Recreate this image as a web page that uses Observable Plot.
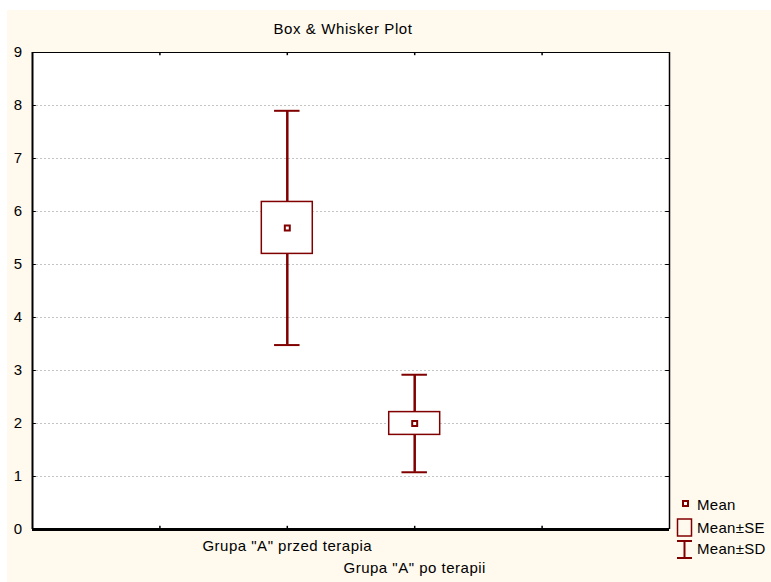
<!DOCTYPE html>
<html><head><meta charset="utf-8">
<script src="https://cdn.jsdelivr.net/npm/d3@7"></script>
<script src="https://cdn.jsdelivr.net/npm/@observablehq/plot@0.6"></script>
<style>
body{margin:0;background:#fff;font-family:"Liberation Sans",Arial,sans-serif;}
#wrap{position:relative;width:771px;height:582px;overflow:hidden;}
#bg{position:absolute;left:7px;top:10px;width:764px;height:572px;background:#fff9ee;}
#chart{position:absolute;left:0;top:0;}
#title{position:absolute;top:20px;left:243px;width:200px;text-align:center;font-size:15px;color:#000;letter-spacing:0.6px;}
#legend{position:absolute;left:672px;top:492px;letter-spacing:0.3px;}
</style></head>
<body>
<div id="wrap">
  <div id="bg"></div>
  <div id="title">Box &amp; Whisker Plot</div>
  <div id="chart"></div>
  <svg id="legend" width="99" height="72" font-family="Liberation Sans, Arial, sans-serif" font-size="15">
    <rect x="11" y="9" width="5" height="5" fill="white" stroke="#800000" stroke-width="2"></rect>
    <rect x="5.5" y="27" width="14" height="17" fill="none" stroke="#800000" stroke-width="1.5"></rect>
    <line x1="12.5" x2="12.5" y1="48" y2="66" stroke="#800000" stroke-width="2"></line>
    <line x1="5" x2="20" y1="49" y2="49" stroke="#800000" stroke-width="2"></line>
    <line x1="5" x2="20" y1="66" y2="66" stroke="#800000" stroke-width="2"></line>
    <text x="25" y="18">Mean</text>
    <text x="25" y="41">Mean±SE</text>
    <text x="25" y="62">Mean±SD</text>
  </svg>
</div>
<script>
const categories = ['Grupa "A" przed terapia', 'Grupa "A" po terapii'];
const means = [5.69, 2.00];
const seHalf = [0.49, 0.215];
const sdHalf = [2.21, 0.92];
const yTicks = [0, 1, 2, 3, 4, 5, 6, 7, 8, 9];
const gridTicks = [1, 2, 3, 4, 5, 6, 7, 8];
const xTicks = [1, 2, 3, 4];

const red = "#800000";
const rows = categories.map((c, i) => ({
  cat: c,
  pos: i + 2,
  mean: means[i],
  seLo: means[i] - seHalf[i], seHi: means[i] + seHalf[i],
  sdLo: means[i] - sdHalf[i], sdHi: means[i] + sdHalf[i]
}));

const chart = Plot.plot({
  width: 771, height: 582,
  marginLeft: 32, marginTop: 52, marginRight: 102, marginBottom: 53,
  style: {background: "transparent", fontFamily: "Liberation Sans, Arial, sans-serif", fontSize: "15px", color: "#000", overflow: "visible", letterSpacing: "0.5px"},
  x: {domain: [0, 5], axis: null},
  y: {domain: [0, 9], axis: null},
  marks: [
    Plot.frame({fill: "white", stroke: null}),
    Plot.ruleY(gridTicks, {stroke: "#c4c4c4", strokeDasharray: "2,2"}),
    Plot.ruleX(rows, {x: "pos", y1: "sdLo", y2: "sdHi", stroke: red, strokeWidth: 2.5}),
    Plot.ruleY(rows, {y: "sdHi", x1: d => d.pos - 0.1, x2: d => d.pos + 0.1, stroke: red, strokeWidth: 2}),
    Plot.ruleY(rows, {y: "sdLo", x1: d => d.pos - 0.1, x2: d => d.pos + 0.1, stroke: red, strokeWidth: 2}),
    Plot.rect(rows, {x1: d => d.pos - 0.2, x2: d => d.pos + 0.2, y1: "seLo", y2: "seHi", fill: "white", stroke: red, strokeWidth: 1.5}),
    Plot.dot(rows, {x: "pos", y: "mean", symbol: "square", r: 2.8, stroke: red, strokeWidth: 2, fill: "white"}),
    // inward ticks
    Plot.ruleY(yTicks, {x1: 0, x2: 0.03, stroke: "#000"}),
    Plot.ruleY(yTicks, {x1: 5, x2: 4.97, stroke: "#000"}),
    Plot.ruleX(xTicks, {y1: 9, y2: 8.94, stroke: "#000", strokeWidth: 1.5}),
    Plot.ruleX(xTicks, {y1: 0, y2: 0.06, stroke: "#000", strokeWidth: 1.5}),
    // frame
    Plot.ruleY([9], {stroke: "#000", strokeWidth: 1}),
    Plot.ruleX([5], {stroke: "#000", strokeWidth: 1.5}),
    Plot.ruleX([0], {stroke: "#000", strokeWidth: 2}),
    Plot.ruleY([0], {stroke: "#000", strokeWidth: 3}),
    // axes
    Plot.axisY({ticks: yTicks, tickSize: 0, tickPadding: 10, label: null, anchor: "left"}),
    Plot.axisX({ticks: [rows[0].pos], tickFormat: () => categories[0], tickSize: 0, tickPadding: 11, label: null}),
    Plot.axisX({ticks: [rows[1].pos], tickFormat: () => categories[1], tickSize: 0, tickPadding: 33, label: null})
  ]
});
document.getElementById("chart").appendChild(chart);
</script>
</body></html>
